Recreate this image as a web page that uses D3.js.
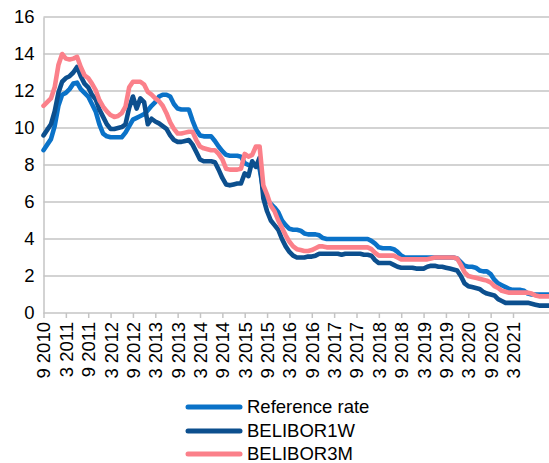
<!DOCTYPE html>
<html>
<head>
<meta charset="utf-8">
<script src="https://cdn.jsdelivr.net/npm/d3@7"></script>
<style>
  html, body { margin: 0; padding: 0; background: #fff; }
  svg { display: block; font-family: "Liberation Sans", Arial, sans-serif; }
</style>
</head>
<body>
<svg id="chart" width="549" height="463"></svg>
<script>
// Monthly series, September 2010 onwards (index 0 = 9 2010)
const tickLabels = ["9 2010","3 2011","9 2011","3 2012","9 2012","3 2013","9 2013","3 2014","9 2014",
  "3 2015","9 2015","3 2016","9 2016","3 2017","9 2017","3 2018","9 2018","3 2019","9 2019",
  "3 2020","9 2020","3 2021"];

const yTicks = [0, 2, 4, 6, 8, 10, 12, 14, 16];

const seriesNames = ["Reference rate", "BELIBOR1W", "BELIBOR3M"];

const refRate = [
  8.8, 9.1, 9.4, 10.1, 11.2, 11.8, 11.9, 12.1, 12.4, 12.45, 12.1, 11.9,
  11.7, 11.3, 10.9, 10.2, 9.7, 9.55, 9.5, 9.5, 9.5, 9.5, 9.75, 10.1,
  10.45, 10.55, 10.65, 10.75, 10.95, 11.2, 11.4, 11.7, 11.8, 11.8, 11.7, 11.3,
  11.05, 11.0, 11.0, 11.0, 10.4, 9.9, 9.6, 9.55, 9.55, 9.55, 9.3, 9.0,
  8.75, 8.55, 8.5, 8.5, 8.5, 8.45, 8.1, 8.0, 8.0, 8.0, 7.8, 6.6,
  6.1, 5.9, 5.7, 5.45, 5.0, 4.75, 4.55, 4.5, 4.5, 4.45, 4.3, 4.25,
  4.25, 4.25, 4.2, 4.05, 4.0, 4.0, 4.0, 4.0, 4.0, 4.0, 4.0, 4.0,
  4.0, 4.0, 4.0, 4.0, 3.9, 3.75, 3.55, 3.5, 3.5, 3.5, 3.45, 3.3,
  3.1, 3.0, 3.0, 3.0, 3.0, 3.0, 3.0, 3.0, 3.0, 3.0, 3.0, 3.0,
  3.0, 3.0, 3.0, 2.95, 2.75, 2.55, 2.5, 2.5, 2.45, 2.3, 2.25, 2.25,
  2.1, 1.8, 1.6, 1.5, 1.4, 1.3, 1.25, 1.25, 1.25, 1.2, 1.05, 1.0,
  1.0, 1.0, 1.0, 1.0, 1.0
];

const belibor1w = [
  9.6, 9.9, 10.2, 10.9, 11.9, 12.5, 12.7, 12.8, 13.0, 13.3, 12.8, 12.4,
  12.2, 11.8, 11.55, 11.0, 10.6, 10.2, 9.95, 9.95, 10.0, 10.05, 10.2, 11.1,
  11.7, 11.05, 11.6, 11.4, 10.2, 10.5, 10.35, 10.25, 10.1, 9.95, 9.6, 9.35,
  9.25, 9.25, 9.3, 9.35, 9.1, 8.7, 8.3, 8.2, 8.2, 8.2, 8.15, 7.75,
  7.3, 6.95, 6.9, 6.95, 7.0, 7.0, 7.55, 7.4, 8.2, 7.9, 8.4, 6.2,
  5.5, 5.0, 4.75, 4.5, 4.0, 3.6, 3.3, 3.1, 3.0, 3.0, 3.0, 3.05,
  3.05, 3.1, 3.2, 3.2, 3.2, 3.2, 3.2, 3.2, 3.15, 3.2, 3.2, 3.2,
  3.2, 3.2, 3.15, 3.15, 3.1, 2.85, 2.7, 2.7, 2.7, 2.7, 2.6, 2.5,
  2.45, 2.45, 2.45, 2.45, 2.4, 2.4, 2.4, 2.5, 2.55, 2.55, 2.5, 2.5,
  2.45, 2.4, 2.35, 2.3, 2.0, 1.6, 1.45, 1.4, 1.35, 1.3, 1.15, 1.05,
  1.0, 0.95, 0.75, 0.65, 0.55, 0.55, 0.55, 0.55, 0.55, 0.55, 0.55, 0.5,
  0.45, 0.4, 0.4, 0.4, 0.4
];

const belibor3m = [
  11.2, 11.4, 11.6, 12.2, 13.4, 14.0, 13.75, 13.7, 13.75, 13.85, 13.3, 12.85,
  12.7, 12.4, 12.05, 11.5, 11.15, 10.9, 10.7, 10.6, 10.65, 10.8, 11.15, 12.2,
  12.5, 12.5, 12.5, 12.35, 11.95, 11.8, 11.6, 11.45, 11.2, 10.8, 10.3, 9.95,
  9.7, 9.7, 9.75, 9.8, 9.8, 9.35, 9.0, 8.9, 8.85, 8.8, 8.8, 8.6,
  8.3, 7.8, 7.75, 7.75, 7.75, 7.8, 8.6, 8.45, 8.55, 9.0, 9.0, 6.9,
  6.4, 5.8, 5.5, 5.0, 4.6, 4.2, 3.85, 3.6, 3.45, 3.4, 3.35, 3.35,
  3.4, 3.5, 3.6, 3.6, 3.55, 3.55, 3.55, 3.55, 3.55, 3.55, 3.55, 3.55,
  3.55, 3.55, 3.55, 3.55, 3.45, 3.25, 3.1, 3.1, 3.1, 3.1, 3.1, 3.0,
  2.9, 2.9, 2.9, 2.9, 2.9, 2.9, 2.9, 2.9, 2.95, 3.0, 3.0, 3.0,
  3.0, 3.0, 3.0, 2.95, 2.6, 2.2, 2.0, 1.95, 1.9, 1.85, 1.8, 1.75,
  1.65, 1.45, 1.35, 1.2, 1.15, 1.1, 1.1, 1.1, 1.1, 1.1, 1.1, 1.05,
  0.95, 0.9, 0.9, 0.9, 0.9
];

const colors = ["#0a72c8", "#0c4f8e", "#fb808a"];
const seriesData = [refRate, belibor1w, belibor3m];

const svg = d3.select("#chart");
const W = 549;
const fontSize = 18.5;
const gridColor = "#c4c4c4";

// Month index -> x (one tick every 6 months)
const x = d3.scaleLinear().domain([0, 126]).range([43.5, 513]);
const y = d3.scaleLinear().domain([0, 16]).range([313, 17]);

// Horizontal gridlines
svg.append("g")
  .selectAll("line")
  .data(yTicks.filter(v => v > 0))
  .join("line")
  .attr("x1", x(0)).attr("x2", W)
  .attr("y1", d => y(d)).attr("y2", d => y(d))
  .attr("stroke", gridColor)
  .attr("stroke-width", 1.5);

// Y axis labels and line
const yAxis = svg.append("g")
  .attr("transform", `translate(${x(0)},0)`)
  .call(d3.axisLeft(y).tickValues(yTicks).tickSize(0).tickPadding(9).tickFormat(d3.format("d")));
yAxis.select(".domain").attr("stroke", gridColor).attr("stroke-width", 1.5);
yAxis.selectAll("text")
  .attr("font-size", fontSize)
  .attr("font-family", "Liberation Sans, Arial, sans-serif")
  .attr("fill", "#000");

// X axis with ticks and rotated labels
const tickIdx = tickLabels.map((_, i) => i * 6);
const xAxis = svg.append("g")
  .attr("transform", `translate(0,${y(0)})`)
  .call(d3.axisBottom(x).tickValues(tickIdx).tickSize(5).tickFormat((d, i) => tickLabels[i]));
xAxis.select(".domain").attr("stroke", gridColor).attr("stroke-width", 1.5)
  .attr("d", `M${x(0)},0H${W}`);
xAxis.selectAll(".tick line").attr("stroke", gridColor).attr("stroke-width", 1.5);
xAxis.selectAll("text")
  .attr("font-size", fontSize)
  .attr("font-family", "Liberation Sans, Arial, sans-serif")
  .attr("fill", "#000")
  .attr("text-anchor", "end")
  .attr("dy", "0.35em")
  .attr("transform", "translate(0,0) rotate(-90)")
  .attr("x", -9)
  .attr("y", 0);

// Series lines
const line = d3.line()
  .x((d, i) => x(i))
  .y(d => y(d));

svg.append("g")
  .selectAll("path")
  .data(seriesData)
  .join("path")
  .attr("d", d => line(d))
  .attr("fill", "none")
  .attr("stroke", (d, i) => colors[i])
  .attr("stroke-width", 4.6)
  .attr("stroke-linejoin", "round")
  .attr("stroke-linecap", "round");

// Legend
const legend = svg.append("g");
const legendY = [407, 431, 454];
seriesNames.forEach((name, i) => {
  legend.append("line")
    .attr("x1", 188).attr("x2", 240)
    .attr("y1", legendY[i]).attr("y2", legendY[i])
    .attr("stroke", colors[i])
    .attr("stroke-width", 5)
    .attr("stroke-linecap", "round");
  legend.append("text")
    .attr("x", 247).attr("y", legendY[i])
    .attr("dy", "0.35em")
    .attr("font-size", fontSize)
    .attr("fill", "#000")
    .text(name);
});
</script>
</body>
</html>
